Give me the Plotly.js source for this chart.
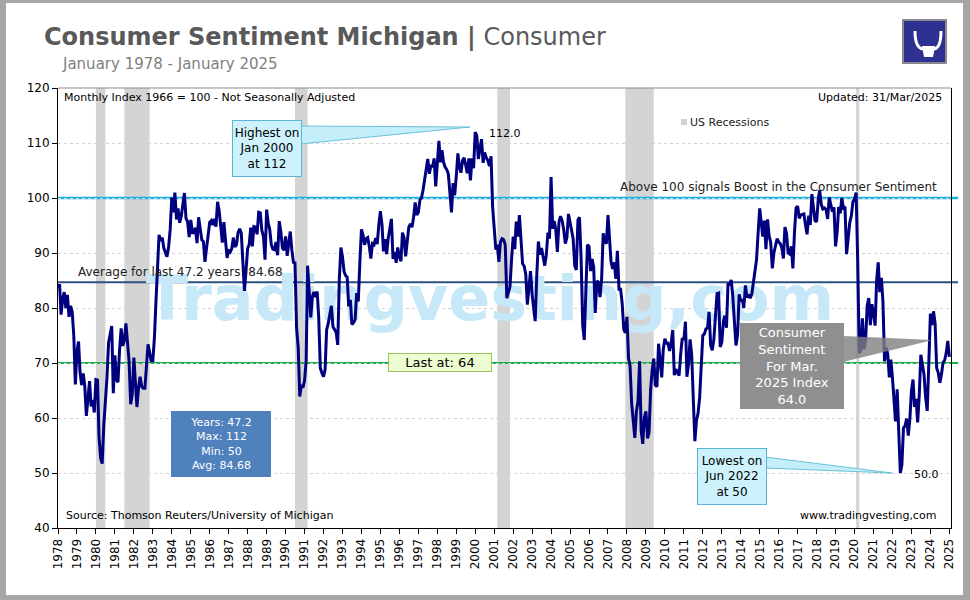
<!DOCTYPE html>
<html>
<head>
<meta charset="utf-8">
<script src="https://cdn.plot.ly/plotly-3.0.1.min.js"></script>
<style>
  html, body { margin: 0; padding: 0; background: #a6a6a6; }
  #frame { position: absolute; left: 6px; top: 3px; width: 957px; height: 592px; background: #ffffff; }
  #chart { position: absolute; left: 0; top: 0; width: 970px; height: 600px; }
</style>
</head>
<body>
<div id="frame"></div>
<div id="chart"></div>
<script>
// ---- Data: University of Michigan Consumer Sentiment, monthly, Jan 1978 - Jan 2025 ----
const startYear = 1978;
const s1978_1989 = [
  83.7, 84.3, 78.8, 81.6, 82.9, 80.0, 82.4, 78.4, 80.4, 79.3, 75.0, 66.1,
  72.1, 73.9, 68.4, 66.0, 68.1, 65.8, 60.4, 64.5, 66.7, 62.1, 63.3, 61.0,
  67.0, 66.9, 56.5, 52.7, 51.7, 58.7, 62.3, 67.3, 73.7, 75.0, 76.7, 64.5,
  71.4, 66.9, 66.5, 72.4, 76.3, 73.1, 74.1, 77.2, 73.1, 70.3, 62.5, 64.3,
  71.0, 66.5, 62.0, 65.5, 67.5, 65.7, 65.4, 65.4, 69.3, 73.4, 71.9, 70.4,
  70.4, 74.6, 80.8, 89.1, 93.3, 92.2, 92.8, 90.9, 89.9, 89.3, 91.1, 94.2,
  100.1, 97.4, 101.0, 96.1, 98.1, 95.5, 96.6, 99.1, 100.9, 96.3, 95.7, 92.9,
  96.0, 93.7, 93.7, 94.6, 91.8, 96.5, 94.0, 92.4, 92.1, 88.4, 90.9, 93.9,
  95.6, 95.9, 95.1, 96.2, 94.8, 99.3, 97.7, 94.9, 91.9, 95.6, 91.4, 89.1,
  90.4, 90.2, 90.8, 92.8, 91.1, 91.5, 93.7, 94.4, 93.6, 89.3, 83.1, 86.8,
  90.8, 91.6, 94.6, 91.2, 94.8, 94.7, 93.4, 97.4, 97.3, 94.1, 93.0, 88.8,
  97.9, 95.4, 94.3, 91.5, 90.7, 90.6, 92.0, 89.6, 95.8, 93.9, 90.9, 90.5
];
const s1990_1999 = [
  93.0, 89.5, 91.3, 93.9, 90.6, 88.3, 88.2, 76.4, 72.8, 63.9, 66.0, 65.5,
  66.8, 70.4, 87.7, 81.8, 78.3, 82.1, 82.9, 82.0, 83.0, 78.3, 69.1, 68.2,
  67.5, 68.8, 76.0, 77.2, 79.2, 80.4, 76.6, 76.1, 75.6, 73.3, 85.3, 91.0,
  89.3, 86.6, 85.9, 85.6, 80.3, 81.5, 77.0, 77.3, 77.9, 82.7, 81.2, 88.2,
  94.3, 93.2, 91.5, 92.6, 92.8, 91.2, 89.0, 91.7, 91.5, 92.7, 91.6, 95.1,
  97.6, 95.1, 90.3, 92.5, 89.8, 92.7, 94.4, 96.2, 88.9, 90.2, 88.2, 91.0,
  89.3, 88.5, 93.7, 92.7, 89.4, 92.4, 94.7, 95.3, 94.7, 96.5, 99.2, 96.9,
  97.4, 99.7, 100.0, 101.4, 103.2, 104.5, 107.1, 104.4, 106.0, 105.6, 107.2, 102.1,
  106.6, 110.4, 106.5, 108.7, 106.5, 105.6, 105.2, 104.4, 100.9, 97.4, 102.7, 100.5,
  103.9, 108.1, 105.7, 104.6, 106.8, 107.3, 106.0, 104.5, 107.2, 103.2, 107.2, 105.4
];
const s2000_2009 = [
  112.0, 111.3, 107.1, 109.2, 110.7, 106.4, 108.3, 107.3, 106.8, 105.8, 107.6, 98.4,
  94.7, 90.6, 91.5, 88.4, 92.0, 92.6, 92.4, 91.5, 81.8, 82.7, 83.9, 88.8,
  93.0, 90.7, 95.7, 93.0, 96.9, 92.4, 88.1, 87.6, 86.1, 80.6, 84.2, 86.7,
  82.4, 79.9, 77.6, 86.0, 92.1, 89.7, 90.9, 89.3, 87.7, 89.6, 93.7, 92.6,
  103.8, 94.4, 95.8, 94.2, 90.2, 95.6, 96.7, 95.9, 94.2, 91.7, 92.8, 97.1,
  95.5, 94.1, 92.6, 87.7, 86.9, 96.0, 96.5, 89.1, 76.9, 74.2, 81.6, 91.5,
  91.2, 86.7, 88.9, 87.4, 79.1, 84.9, 84.7, 82.0, 85.4, 93.6, 92.1, 91.7,
  96.9, 91.3, 88.4, 87.1, 88.3, 85.3, 90.4, 83.4, 83.4, 80.9, 76.1, 75.5,
  78.4, 70.8, 69.5, 62.6, 59.8, 56.4, 61.2, 63.0, 70.3, 57.6, 55.3, 60.1,
  61.2, 56.3, 57.3, 65.1, 68.7, 70.8, 66.0, 65.7, 73.5, 70.6, 67.4, 72.5
];
const s2010_2019 = [
  74.4, 73.6, 73.6, 72.2, 73.6, 76.0, 67.8, 68.9, 68.2, 67.7, 71.6, 74.5,
  74.2, 77.5, 67.5, 69.8, 74.3, 71.5, 63.7, 55.8, 59.5, 60.8, 63.7, 69.9,
  75.0, 75.3, 76.2, 76.4, 79.3, 73.2, 72.3, 74.3, 78.3, 82.6, 82.7, 72.9,
  73.8, 77.6, 78.6, 76.4, 84.5, 84.1, 85.1, 82.1, 77.5, 73.2, 75.1, 82.5,
  81.2, 81.6, 80.0, 84.1, 81.9, 82.5, 81.8, 82.5, 84.6, 86.9, 88.8, 93.6,
  98.1, 95.4, 93.0, 95.9, 90.7, 96.1, 93.1, 91.9, 87.2, 90.0, 91.3, 92.6,
  92.0, 91.7, 91.0, 89.0, 94.7, 93.5, 90.0, 89.8, 91.2, 87.2, 93.8, 98.2,
  98.5, 96.3, 96.9, 97.0, 97.1, 95.1, 93.4, 96.8, 95.1, 100.7, 98.5, 95.9,
  95.7, 99.7, 101.4, 98.8, 98.0, 98.2, 97.9, 96.2, 100.1, 98.6, 97.5, 98.3,
  91.2, 93.8, 98.4, 97.2, 100.0, 98.2, 98.4, 89.8, 93.2, 95.5, 96.8, 99.3
];
const s2020_2025 = [
  99.8, 101.0, 89.1, 71.8, 72.3, 78.1, 72.5, 74.1, 80.4, 81.8, 76.9, 80.7,
  79.0, 76.8, 84.9, 88.3, 82.9, 85.5, 81.2, 70.3, 72.8, 71.7, 67.4, 70.6,
  67.2, 62.8, 59.4, 65.2, 58.4, 50.0, 51.5, 58.2, 58.6, 59.9, 56.8, 59.7,
  64.9, 67.0, 62.0, 63.5, 59.2, 64.2, 71.5, 69.4, 67.9, 63.8, 61.3, 69.7,
  79.0, 76.9, 79.4, 77.2, 69.1, 68.2, 66.4, 67.9, 70.1, 70.5, 71.8, 74.0,
  71.1
];
// US recessions (NBER)
const recStart = ['1980-01-01', '1981-07-01', '1990-07-01', '2001-03-01', '2007-12-01', '2020-02-01'];
const recEnd   = ['1980-07-01', '1982-11-01', '1991-03-01', '2001-11-01', '2009-06-01', '2020-04-01'];
// Reference levels
const levelBoost = 100;
const levelAverage = 84.68;
const levelLast = 70;
const yearTicksStart = '1978-01-01';

// ---- Build ----
const sentiment = [].concat(s1978_1989, s1990_1999, s2000_2009, s2010_2019, s2020_2025);
const months = sentiment.map((v, i) => {
  const y = startYear + Math.floor(i / 12);
  const m = (i % 12) + 1;
  return y + '-' + (m < 10 ? '0' : '') + m + '-01';
});

const FONT = 'DejaVu Sans, Verdana, sans-serif';
const L = 58, R = 951, T = 88, B = 528;
const px = x => (x - L) / (R - L);
const py = y => (B - y) / (B - T);
const xStart = Date.UTC(1978, 0, 1), xEnd = Date.UTC(2025, 1, 1);
const pxDate = x => new Date(xStart + (x - L) / (R - L) * (xEnd - xStart)).toISOString().slice(0, 10);
const pyVal = y => 120 - (y - T) * 80 / (B - T);

const watermark = {
  x: [pxDate(490)], y: [pyVal(304)], mode: 'text', text: ['<b>Tradingvesting,com</b>'],
  textposition: 'middle center',
  textfont: { family: FONT, size: 62, color: '#c6e8f8' },
  hoverinfo: 'skip', showlegend: false, cliponaxis: false
};
const line = {
  x: months, y: sentiment, mode: 'lines', type: 'scatter',
  line: { color: '#00007f', width: 3 }, showlegend: false
};

const shapes = [];
recStart.forEach((s, i) => shapes.push({
  type: 'rect', xref: 'x', yref: 'paper', x0: s, x1: recEnd[i], y0: 0, y1: 1,
  fillcolor: '#d4d4d4', line: { width: 0 }, layer: 'below'
}));
[[levelBoost, '#1db1e8', 2.5], [levelAverage, '#2c5082', 2], [levelLast, '#1fb04b', 2]].forEach(l => shapes.push({
  type: 'line', xref: 'paper', yref: 'y', x0: 0, x1: px(958), y0: l[0], y1: l[0],
  line: { color: l[1], width: l[2] }, layer: 'below'
}));
// top border
shapes.push({ type: 'line', xref: 'paper', yref: 'paper', x0: 0, x1: 1, y0: 1, y1: 1, line: { color: '#8c8c8c', width: 1 } });
// legend square
shapes.push({ type: 'rect', xref: 'paper', yref: 'paper', x0: px(681), x1: px(687), y0: py(125), y1: py(119), fillcolor: '#d0d0d0', line: { width: 0 } });
// callout wedges
const tri = (a, b, c) => 'M ' + px(a[0]) + ',' + py(a[1]) + ' L ' + px(b[0]) + ',' + py(b[1]) + ' L ' + px(c[0]) + ',' + py(c[1]) + ' Z';
shapes.push({ type: 'path', xref: 'paper', yref: 'paper', path: tri([300, 126], [470, 127], [300, 144]), fillcolor: '#c4eefa', line: { color: '#6cc0dc', width: 1 } });
shapes.push({ type: 'path', xref: 'paper', yref: 'paper', path: tri([765, 457], [892, 473], [765, 468]), fillcolor: '#c4eefa', line: { color: '#6cc0dc', width: 1 } });
shapes.push({ type: 'path', xref: 'paper', yref: 'paper', path: tri([843, 336], [933, 340], [843, 362]), fillcolor: 'rgba(128,128,128,0.8)', line: { width: 0 } });
// logo
shapes.push({ type: 'rect', xref: 'paper', yref: 'paper', x0: px(903), x1: px(946), y0: py(63), y1: py(20), fillcolor: '#2e3192', line: { color: '#8a8a8a', width: 2 } });
shapes.push({ type: 'path', xref: 'paper', yref: 'paper',
  path: 'M ' + px(915) + ',' + py(31) + ' Q ' + px(915) + ',' + py(48) + ' ' + px(923) + ',' + py(49) +
        ' L ' + px(934) + ',' + py(49) + ' Q ' + px(941) + ',' + py(48) + ' ' + px(941) + ',' + py(31),
  line: { color: '#ffffff', width: 3 } });
shapes.push({ type: 'path', xref: 'paper', yref: 'paper',
  path: 'M ' + px(922) + ',' + py(46) + ' L ' + px(935) + ',' + py(46) + ' L ' + px(933) + ',' + py(57) + ' L ' + px(924) + ',' + py(57) + ' Z',
  fillcolor: '#ffffff', line: { width: 0 } });

const txt = (t, x, y, anchor, size, color, extra) => Object.assign({
  text: t, xref: 'paper', yref: 'paper', x: px(x), y: py(y), xanchor: anchor, yanchor: 'middle',
  showarrow: false, font: { family: FONT, size: size, color: color || '#000000' }
}, extra || {});
const box = (t, cx, cy, w, h, bg, border, size, color) => txt(t, cx, cy, 'center', size, color, {
  width: w, height: h, bgcolor: bg, bordercolor: border, borderwidth: border ? 1 : 0, borderpad: 0, align: 'center', valign: 'middle'
});

const annotations = [
  txt('January 1978 - January 2025', 60, 64, 'left', 15, '#808080'),
  txt('Monthly Index 1966 = 100 - Not Seasonally Adjusted', 62, 98, 'left', 11),
  txt('Updated: 31/Mar/2025', 944, 98, 'right', 11),
  txt('US Recessions', 688, 122, 'left', 11, '#222222'),
  txt('Above 100 signals Boost in the Consumer Sentiment', 939, 187, 'right', 12, '#222222'),
  txt('Average for last 47.2 years: 84.68', 76, 272, 'left', 12, '#222222'),
  txt('112.0', 487, 133, 'left', 11),
  txt('50.0', 912, 474, 'left', 11),
  txt('Source: Thomson Reuters/University of Michigan', 64, 515, 'left', 11),
  txt('www.tradingvesting,com', 938, 515, 'right', 11),
  box('Highest on<br>Jan 2000<br>at 112', 267, 148, 68, 55, '#cdf2fb', '#5ab6d6', 12, '#000000'),
  box('Lowest on<br>Jun 2022<br>at 50', 732, 476.5, 68, 55, '#cdf2fb', '#5ab6d6', 12, '#000000'),
  box('Consumer<br>Sentiment<br>For Mar.<br>2025 Index<br>64.0', 792, 366, 104, 86, '#8f8f8f', null, 13, '#ffffff'),
  box('Years: 47.2<br>Max: 112<br>Min: 50<br>Avg: 84.68', 221, 444, 100, 66, '#4f81bd', null, 11, '#ffffff'),
  box('Last at: 64', 440, 362.5, 102, 17, '#eefcd2', '#9cc25a', 13, '#000000')
];

const layout = {
  width: 970, height: 600,
  margin: { l: L, r: 970 - R, t: T, b: 600 - B, pad: 0 },
  paper_bgcolor: 'rgba(0,0,0,0)', plot_bgcolor: 'rgba(0,0,0,0)',
  font: { family: FONT, color: '#000000' },
  title: {
    text: '<b>Consumer Sentiment Michigan |</b> Consumer',
    x: 44 / 970, xanchor: 'left', xref: 'container',
    y: 1 - 37 / 600, yanchor: 'middle', yref: 'container',
    font: { family: FONT, size: 24, color: '#595959' }
  },
  showlegend: false,
  xaxis: {
    type: 'date', range: ['1978-01-01', '2025-02-01'],
    tick0: yearTicksStart, dtick: 'M12', tickformat: '%Y', tickangle: -90,
    ticks: 'outside', ticklen: 5, tickcolor: '#000000',
    tickfont: { family: FONT, size: 12, color: '#000000' },
    showgrid: false, showline: true, linecolor: '#000000', linewidth: 1,
    zeroline: false, fixedrange: true
  },
  yaxis: {
    range: [40, 120], dtick: 10, tick0: 40,
    ticks: 'outside', ticklen: 5, tickcolor: '#000000',
    tickfont: { family: FONT, size: 12, color: '#000000' },
    showgrid: true, gridcolor: '#d2d2d2', griddash: 'dot', gridwidth: 1,
    showline: true, mirror: true, linecolor: '#000000', linewidth: 1,
    zeroline: false, fixedrange: true
  },
  shapes: shapes,
  annotations: annotations
};

Plotly.newPlot('chart', [watermark, line], layout, { displayModeBar: false, staticPlot: true });
</script>
</body>
</html>
